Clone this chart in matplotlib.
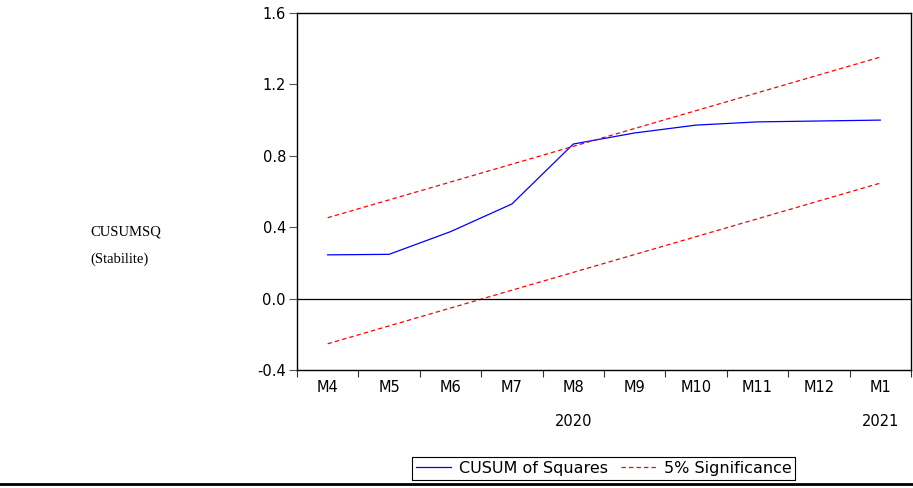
import matplotlib
matplotlib.use("Agg")
import matplotlib.pyplot as plt
from matplotlib.lines import Line2D

months = ["M4", "M5", "M6", "M7", "M8", "M9", "M10", "M11", "M12", "M1"]
cusumsq = [0.245, 0.248, 0.375, 0.53, 0.866, 0.928, 0.972, 0.99, 0.995, 1.0]
upper = [0.453, 0.553, 0.653, 0.753, 0.853, 0.953, 1.053, 1.153, 1.253, 1.353]
lower = [-0.253, -0.153, -0.053, 0.047, 0.147, 0.247, 0.347, 0.447, 0.547, 0.647]
yticks = [-0.4, 0.0, 0.4, 0.8, 1.2, 1.6]
years = [(4, "2020"), (9, "2021")]

plt.rcParams['font.family'] = ['DejaVu Sans']

fig = plt.figure(figsize=(9.13, 4.88), dpi=100)
ax = fig.add_axes([297/913, 1-370/488, (911-297)/913, (370-13)/488])

x = list(range(len(months)))
ax.plot(x, cusumsq, color="#0000ff", lw=0.9, label="CUSUM of Squares")
ax.plot(x, upper, color="#ff0000", lw=0.9, ls=(0, (3.5, 2.5)), label="5% Significance")
ax.plot(x, lower, color="#ff0000", lw=0.9, ls=(0, (3.5, 2.5)))
ax.axhline(0.0, color="black", lw=0.9)

ax.set_xlim(-0.5, len(months) - 0.5)
ax.set_ylim(-0.4, 1.6)
ax.set_yticks(yticks)
ax.set_yticklabels([f"{v:.1f}" for v in yticks])
ax.set_xticks([i - 0.5 for i in range(len(months) + 1)])
ax.set_xticklabels([])
ax.set_xticks(x, minor=True)
ax.set_xticklabels(months, minor=True)
ax.tick_params(axis="x", which="major", direction="out", length=5, width=0.8, color="#333333")
ax.tick_params(axis="x", which="minor", length=0, pad=7, labelsize=10.5)
ax.tick_params(axis="y", direction="out", length=6, width=0.8, labelsize=10.5, pad=2, color="#555555")
for s in ax.spines.values():
    s.set_linewidth(1.0)
    s.set_color("black")

for xi, yr in years:
    ax.text(xi, -0.4 - (422-370)/357*2.0, yr, ha="center", va="center", fontsize=10.5)

fig.text(90/913, 1-232/488, "CUSUMSQ", family="Liberation Serif", fontsize=10.5, va="center", ha="left")
fig.text(90/913, 1-259/488, "(Stabilite)", family="Liberation Serif", fontsize=10.5, va="center", ha="left")

handles = [Line2D([], [], color="#0000ff", lw=0.9),
           Line2D([], [], color="#ff0000", lw=0.9, ls=(0, (3.5, 2.5)))]
leg = fig.legend(handles, ["CUSUM of Squares", "5% Significance"], loc="center",
                 bbox_to_anchor=(603.5/913, 1-468.5/488), ncol=2, fontsize=11.5,
                 frameon=True, fancybox=False, edgecolor="black", handlelength=2.2,
                 handletextpad=0.5, columnspacing=0.8, borderpad=0.25, framealpha=1)
leg.get_frame().set_linewidth(0.8)

fig.add_artist(Line2D([0, 1], [1-484/488, 1-484/488], color="black", lw=2.0, transform=fig.transFigure))

fig.savefig("out.png", dpi=100)
